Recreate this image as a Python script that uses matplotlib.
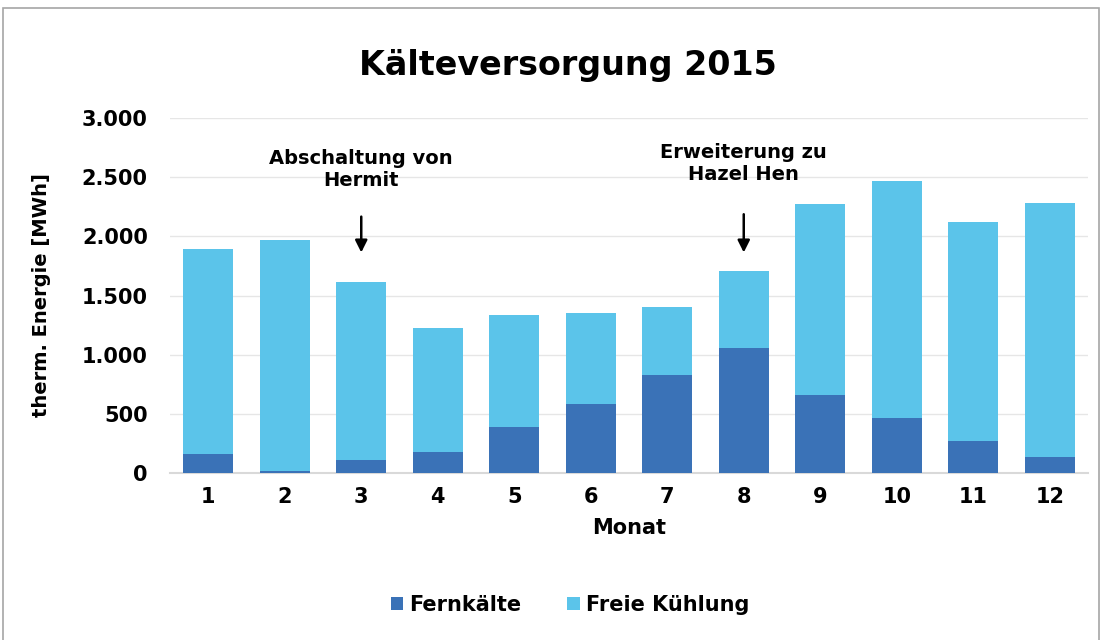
import numpy as np
import matplotlib.pyplot as plt
from matplotlib.patches import Rectangle

# ===== Data =====
months = ["1", "2", "3", "4", "5", "6", "7", "8", "9", "10", "11", "12"]
fernkaelte = [160, 15, 110, 180, 390, 580, 830, 1055, 660, 465, 270, 135]
total = [1895, 1970, 1615, 1225, 1335, 1350, 1405, 1705, 2270, 2465, 2120, 2285]
freie_kuehlung = [t - f for t, f in zip(total, fernkaelte)]
y_ticks = [0, 500, 1000, 1500, 2000, 2500, 3000]
y_ticklabels = ["0", "500", "1.000", "1.500", "2.000", "2.500", "3.000"]

DARK = "#3A72B7"
LIGHT = "#5BC4EA"

plt.rcParams['font.family'] = ['DejaVu Sans']
plt.rcParams['font.weight'] = 'bold'

fig = plt.figure(figsize=(11.02, 6.4), dpi=100)
ax = fig.add_axes([170 / 1102, 1 - 473 / 640, 918 / 1102, 355 / 640])

x = np.arange(len(months))
ax.bar(x, fernkaelte, width=0.66, color=DARK, label="Fernkälte", zorder=3)
ax.bar(x, freie_kuehlung, width=0.66, bottom=fernkaelte, color=LIGHT,
       label="Freie Kühlung", zorder=3)

ax.set_xlim(-0.5, len(months) - 0.5)
ax.set_ylim(0, 3000)
ax.set_yticks(y_ticks)
ax.set_yticklabels(y_ticklabels, fontsize=15, fontweight='bold')
ax.set_xticks(x)
ax.set_xticklabels(months, fontsize=15, fontweight='bold')
ax.tick_params(length=0, pad=10)
ax.tick_params(axis='y', pad=16)
ax.grid(axis='y', color='#e6e6e6', linewidth=1, zorder=0)
for s in ['top', 'right', 'left']:
    ax.spines[s].set_visible(False)
ax.spines['bottom'].set_color('#d9d9d9')
ax.spines['bottom'].set_linewidth(1.5)

ax.set_xlabel("Monat", fontsize=15, fontweight='bold', labelpad=8)
ax.set_ylabel("therm. Energie [MWh]", fontsize=14, fontweight='bold', labelpad=22)

fig.text(0.515, 1 - 65 / 640, "Kälteversorgung 2015", ha='center', va='center',
         fontsize=24, fontweight='bold')

# annotations
ax.annotate("", xy=(2, 1840), xytext=(2, 2190),
            arrowprops=dict(arrowstyle='-|>', color='black', lw=1.8, mutation_scale=18))
ax.text(2, 2565, "Abschaltung von\nHermit", ha='center', va='center',
        fontsize=14, fontweight='bold', linespacing=1.25)
ax.annotate("", xy=(7, 1840), xytext=(7, 2210),
            arrowprops=dict(arrowstyle='-|>', color='black', lw=1.8, mutation_scale=18))
ax.text(7, 2615, "Erweiterung zu\nHazel Hen", ha='center', va='center',
        fontsize=14, fontweight='bold', linespacing=1.25)

fig.legend(loc='center', bbox_to_anchor=(570 / 1102, 1 - 605 / 640), ncol=2,
           frameon=False, fontsize=15, handlelength=0.6, handleheight=0.6,
           handletextpad=0.3, columnspacing=2.2)

# outer frame
fig.patches.append(Rectangle((3 / 1102, -0.01), 1096 / 1102, 1 - 8 / 640 + 0.01,
                             transform=fig.transFigure, fill=False,
                             edgecolor='#a6a6a6', linewidth=1.2))

fig.savefig("out.png", dpi=100)
